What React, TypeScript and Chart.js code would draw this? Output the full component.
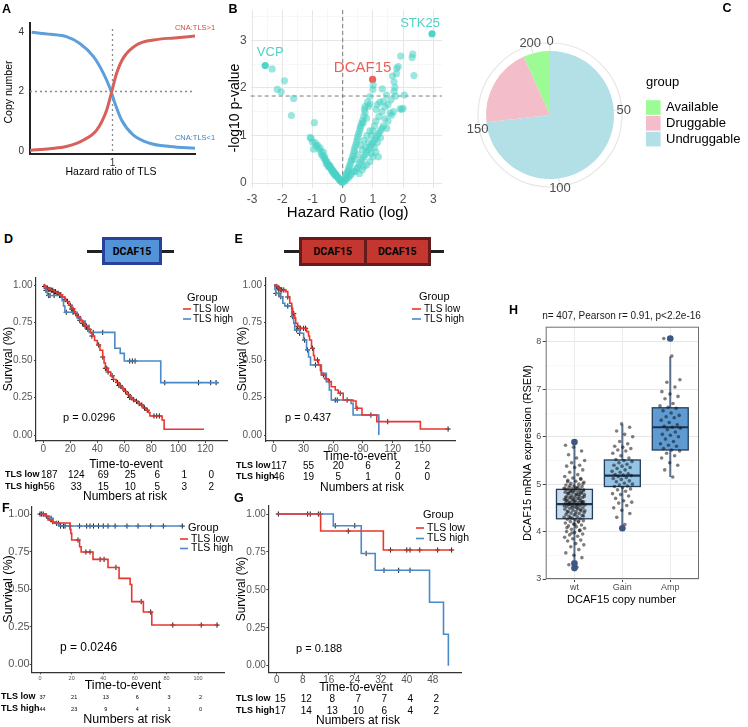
import React, { useEffect, useRef } from "react";
import { Chart, registerables } from "chart.js";

Chart.register(...registerables);
const FONT = "'Liberation Sans', Arial, Helvetica, sans-serif";
Chart.defaults.font.family = FONT;

/* ---------------- Panel A : schematic ---------------- */
const aBlueX = [0.02, 0.25, 0.44, 0.6, 0.77, 0.89, 0.97, 1.03, 1.11, 1.25, 1.45, 1.7, 2.0];
const aBlueY = [3.99, 3.92, 3.84, 3.62, 3.17, 2.61, 2.11, 1.6, 1.04, 0.54, 0.26, 0.15, 0.09];
const aRedX = [0.0, 0.24, 0.44, 0.65, 0.81, 0.93, 0.99, 1.05, 1.13, 1.29, 1.5, 1.75, 2.0];
const aRedY = [0.02, 0.08, 0.15, 0.37, 0.71, 1.38, 1.99, 2.61, 3.12, 3.56, 3.73, 3.8, 3.86];
const aXTicks = [1];
const aYTicks = [0, 2, 4];
const aCurveLabels = ["CNA:TLS>1", "CNA:TLS<1"];

/* ---------------- Panel B : volcano ---------------- */
const bGenes = [
  [-2.34, 2.4], [-1.93, 2.15], [-2.17, 1.97], [-2.04, 1.92], [-1.63, 1.78], [-1.7, 1.42], [-0.94, 1.27], [-1.08, 0.96], [-1.05, 0.94],
  [-1.0, 0.86], [-0.97, 0.71], [-0.92, 0.85], [-0.88, 0.78], [-0.84, 0.8], [-0.8, 0.72], [-0.75, 0.74], [-0.72, 0.66], [-0.7, 0.6],
  [-0.66, 0.58], [-0.64, 0.65], [-0.6, 0.55], [-0.58, 0.5], [-0.55, 0.46], [-0.52, 0.44], [-0.5, 0.4], [-0.47, 0.38], [-0.45, 0.36],
  [-0.42, 0.33], [-0.4, 0.31], [-0.38, 0.3], [-0.35, 0.28], [-0.33, 0.25], [-0.3, 0.24], [-0.28, 0.21], [-0.26, 0.2], [-0.24, 0.18],
  [-0.22, 0.16], [-0.2, 0.15], [-0.18, 0.13], [-0.16, 0.12], [-0.14, 0.1], [-0.12, 0.08], [-0.1, 0.07], [-0.08, 0.05], [-0.06, 0.04],
  [-0.04, 0.03], [-0.02, 0.01], [-0.55, 0.41], [-0.48, 0.34], [-0.36, 0.25], [-0.3, 0.2], [-0.25, 0.16], [-0.42, 0.36], [-0.62, 0.52],
  [0.02, 0.02], [0.05, 0.05], [0.08, 0.1], [0.1, 0.14], [0.12, 0.18], [0.15, 0.22], [0.18, 0.26], [0.2, 0.3], [0.22, 0.35], [0.25, 0.4],
  [0.28, 0.46], [0.3, 0.5], [0.33, 0.56], [0.36, 0.62], [0.38, 0.68], [0.4, 0.74], [0.43, 0.8], [0.46, 0.86], [0.48, 0.92], [0.5, 0.98],
  [0.53, 1.04], [0.56, 1.1], [0.58, 1.16], [0.6, 1.2], [0.63, 1.26], [0.66, 1.32], [0.68, 1.26], [0.7, 1.4], [0.74, 1.48], [0.79, 1.36],
  [0.85, 1.61], [0.72, 1.55], [0.82, 1.7], [0.9, 1.66],
  [0.1, 0.06], [0.15, 0.1], [0.2, 0.12], [0.25, 0.16], [0.3, 0.2], [0.35, 0.24], [0.41, 0.24], [0.45, 0.3], [0.5, 0.33], [0.55, 0.4],
  [0.6, 0.45], [0.65, 0.5], [0.7, 0.55], [0.75, 0.6], [0.79, 0.38], [0.8, 0.65], [0.85, 0.7], [0.9, 0.75], [0.95, 0.8], [1.0, 0.85],
  [1.05, 0.9], [1.1, 0.95], [1.18, 0.55], [1.15, 1.0], [1.2, 1.05], [1.25, 1.1], [1.3, 1.15], [1.46, 1.15], [1.35, 1.2], [0.9, 0.45],
  [1.0, 0.55], [1.1, 0.65], [0.95, 1.0], [1.0, 1.1], [1.05, 1.2], [0.6, 0.8], [0.7, 0.9], [0.8, 1.0], [0.9, 1.1], [1.1, 1.3], [1.2, 1.4],
  [1.3, 1.5], [1.4, 1.6], [1.57, 1.47], [1.62, 1.43], [1.68, 1.5], [1.95, 1.55], [0.5, 0.6], [0.4, 0.5], [0.65, 0.7], [0.75, 0.75],
  [0.85, 0.85], [0.95, 0.62], [1.05, 0.75], [1.15, 0.85], [1.25, 0.95], [1.4, 1.35], [1.5, 1.3], [0.55, 0.2], [0.65, 0.28], [0.7, 0.35],
  [0.74, 1.61], [0.9, 1.82], [1.0, 1.97], [1.01, 2.06], [1.31, 1.98], [1.23, 1.7], [1.7, 1.93], [1.73, 2.01], [1.75, 1.83], [2.04, 1.85],
  [1.9, 1.56], [2.0, 1.57], [1.7, 2.13], [1.79, 2.41], [1.84, 2.45], [1.92, 2.67], [2.32, 2.71], [2.3, 2.64], [2.36, 2.26], [1.6, 1.75],
  [1.5, 1.65], [1.45, 1.85], [1.65, 2.25], [1.78, 2.3], [1.15, 1.65], [1.1, 1.55], [1.35, 1.72],
];
const bHlNames = ["VCP", "STK25", "DCAF15"];
const bHlHR = [-2.57, 2.96, 0.99];
const bHlP = [2.47, 3.14, 2.18];
const bPCut = 1.83;
const bXTicks = [-3, -2.5, -2, -1.5, -1, -0.5, 0, 0.5, 1, 1.5, 2, 2.5, 3];
const bYTicks = [0, 0.5, 1, 1.5, 2, 2.5, 3, 3.5];

/* ---------------- Panel C : pie ---------------- */
const cGroups = ["Available", "Druggable", "Undruggable"];
const cCounts = [14, 42, 153];
const cBreaks = [0, 50, 100, 150, 200];

/* ---------------- KM panels ---------------- */
const kmGroups = ["TLS low", "TLS high"];

const dLow = [[0, 1], [1, 0.99], [2, 0.98], [4, 0.97], [6, 0.965], [8, 0.955], [10, 0.945], [12, 0.935], [14, 0.92], [16, 0.905], [17, 0.89], [19, 0.865], [21, 0.84], [23, 0.81], [25, 0.79], [27, 0.765], [29, 0.745], [31, 0.725], [33, 0.705], [35, 0.68], [36, 0.66], [38, 0.63], [40, 0.6], [42, 0.565], [44, 0.52], [45, 0.48], [46, 0.445], [48, 0.42], [50, 0.395], [52, 0.37], [54, 0.35], [56, 0.33], [58, 0.31], [60, 0.29], [62, 0.27], [64, 0.25], [66, 0.235], [68, 0.225], [70, 0.21], [72, 0.2], [74, 0.18], [76, 0.165], [78, 0.15], [79, 0.127], [88, 0.1], [89.5, 0.038], [119, 0.038]];
const dHigh = [[0, 1], [1, 0.982], [2, 0.964], [3, 0.93], [14, 0.895], [15, 0.86], [16, 0.818], [25, 0.78], [28, 0.76], [31, 0.73], [34, 0.684], [53, 0.578], [57, 0.544], [60, 0.493], [87, 0.349], [130, 0.349]];
const dLowCens = [1, 2, 3, 4, 5, 6, 7, 8, 9, 10, 11, 12, 13, 14, 16, 18, 20, 21, 22, 24, 26, 27, 29, 30, 31, 32, 33, 34, 36, 41, 44, 46, 47, 48, 51, 52, 55, 56, 57, 59, 61, 63, 64, 65, 67, 69, 71, 73, 75, 77, 82, 84, 86];
const dHighCens = [2, 4, 5, 8, 12, 17, 22, 37, 44, 64, 66, 68, 90, 115, 124, 128];
const dRiskT = [0, 20, 40, 60, 80, 100, 120];
const dRiskLow = [187, 124, 69, 25, 6, 1, 0];
const dRiskHigh = [56, 33, 15, 10, 5, 3, 2];

const eLow = [[0, 1], [2, 0.99], [4, 0.98], [6, 0.967], [12, 0.956], [14, 0.92], [16, 0.878], [18, 0.845], [19, 0.81], [21, 0.78], [22, 0.744], [24, 0.725], [26, 0.711], [33, 0.689], [35, 0.66], [36, 0.633], [38, 0.578], [40, 0.53], [41, 0.5], [45, 0.467], [47, 0.43], [48, 0.4], [52, 0.375], [55, 0.356], [58, 0.322], [62, 0.3], [65, 0.278], [70, 0.233], [80, 0.227], [83, 0.178], [89, 0.133], [104, 0.089], [148, 0.04], [176, 0.04]];
const eHigh = [[0, 1], [1, 0.97], [2, 0.944], [6, 0.922], [9, 0.878], [11, 0.86], [18, 0.789], [20, 0.745], [21, 0.7], [26, 0.678], [30, 0.633], [33, 0.567], [35, 0.52], [37, 0.467], [48, 0.411], [53, 0.356], [56, 0.3], [58, 0.233], [78, 0.211], [80, 0.133], [106, 0]];
const eLowCens = [3, 4, 5, 7, 8, 10, 14, 20, 24, 27, 30, 32, 39, 44, 50, 53, 56, 67, 84, 115, 176];
const eHighCens = [2, 5, 7, 14, 19, 23, 26, 31, 34, 42, 62, 64, 74, 98];
const eRiskT = [0, 30, 60, 90, 120, 150];
const eRiskLow = [117, 55, 20, 6, 2, 2];
const eRiskHigh = [46, 19, 5, 1, 0, 0];

const fLow = [[0, 1], [4, 0.982], [5, 0.96], [8, 0.94], [19, 0.898], [19.5, 0.871], [20, 0.827], [25, 0.782], [26, 0.747], [33.5, 0.698], [43, 0.644], [50, 0.571], [57, 0.53], [58, 0.416], [65.4, 0.347], [70.7, 0.26], [112, 0.26]];
const fHigh = [[0, 1], [3, 0.987], [6, 0.971], [8, 0.949], [10, 0.938], [12, 0.92], [90, 0.92]];
const fLowCens = [24, 29, 31.6, 38, 40.5, 48, 64, 70, 84, 102, 112];
const fHighCens = [0, 1, 2, 4, 6, 7, 8, 10.5, 11.6, 13, 14.8, 15.8, 19, 25, 29.5, 31.6, 33.8, 37, 40, 43, 47.5, 55, 62, 70, 78, 90];
const fRiskT = [0, 20, 40, 60, 80, 100];
const fRiskLow = [37, 21, 13, 6, 3, 2];
const fRiskHigh = [44, 23, 9, 4, 1, 0];

const gLow = [[0, 1], [13.5, 0.888], [32.8, 0.763], [53.8, 0.763]];
const gHigh = [[0, 1], [17.4, 0.923], [26, 0.74], [30.3, 0.629], [47, 0.418], [51.3, 0.207], [52.8, 0]];
const gLowCens = [22, 35, 40, 41, 44, 49.5, 53.8];
const gHighCens = [0.5, 9.5, 10.3, 12.8, 13.4, 18, 24, 27.5, 33, 37.5, 41];
const gRiskT = [0, 8, 16, 24, 32, 40, 48];
const gRiskLow = [15, 12, 8, 7, 7, 4, 2];
const gRiskHigh = [17, 14, 13, 10, 6, 4, 2];

/* ---------------- Panel H : box plot ---------------- */
const hCats = ["wt", "Gain", "Amp"];
const hWt = [3.25, 3.3, 3.45, 3.5, 3.55, 3.62, 3.68, 3.72, 3.75, 3.8, 3.82, 3.85, 3.88, 3.9, 3.93, 3.95, 3.98, 4.0, 4.02, 4.05, 4.07, 4.1, 4.12, 4.14, 4.16, 4.18, 4.2, 4.21, 4.23, 4.25, 4.26, 4.27, 4.28, 4.3, 4.31, 4.32, 4.34, 4.35, 4.36, 4.38, 4.39, 4.4, 4.42, 4.43, 4.44, 4.45, 4.47, 4.48, 4.49, 4.5, 4.52, 4.53, 4.54, 4.55, 4.56, 4.57, 4.58, 4.58, 4.59, 4.6, 4.61, 4.62, 4.63, 4.64, 4.65, 4.66, 4.67, 4.68, 4.7, 4.71, 4.72, 4.73, 4.74, 4.75, 4.76, 4.78, 4.79, 4.8, 4.81, 4.82, 4.83, 4.84, 4.85, 4.86, 4.87, 4.88, 4.89, 4.9, 4.91, 4.92, 4.93, 4.95, 4.96, 4.98, 5.0, 5.02, 5.04, 5.06, 5.08, 5.1, 5.13, 5.16, 5.2, 5.25, 5.3, 5.35, 5.38, 5.4, 5.45, 5.5, 5.55, 5.62, 5.7, 5.78, 5.82, 4.22, 4.29, 4.33, 4.37, 4.41, 4.46, 4.51, 4.54, 4.56, 4.6, 4.62, 4.64, 4.66, 4.69, 4.72, 4.74, 4.77, 4.8, 4.83, 4.86, 4.9, 4.94, 4.97, 5.01, 4.15, 4.08, 4.03, 3.97, 4.44, 4.5, 4.57, 4.63, 4.68, 4.71, 4.78, 4.84, 4.88, 4.92, 5.05, 5.12];
const hGain = [4.15, 4.3, 4.38, 4.45, 4.5, 4.55, 4.6, 4.62, 4.65, 4.7, 4.75, 4.78, 4.8, 4.85, 4.88, 4.9, 4.93, 4.95, 4.96, 4.98, 5.0, 5.02, 5.05, 5.07, 5.1, 5.12, 5.14, 5.16, 5.18, 5.19, 5.2, 5.22, 5.25, 5.27, 5.3, 5.33, 5.35, 5.38, 5.4, 5.42, 5.45, 5.48, 5.5, 5.52, 5.55, 5.6, 5.65, 5.7, 5.72, 5.75, 5.78, 5.8, 5.85, 5.9, 6.0, 6.05, 6.12, 6.2, 6.27];
const hAmp = [5.15, 5.3, 5.4, 5.45, 5.55, 5.6, 5.65, 5.7, 5.72, 5.75, 5.8, 5.82, 5.85, 5.9, 5.95, 6.0, 6.03, 6.05, 6.1, 6.15, 6.18, 6.2, 6.22, 6.25, 6.3, 6.35, 6.4, 6.42, 6.45, 6.5, 6.55, 6.6, 6.62, 6.65, 6.7, 6.8, 6.85, 6.9, 6.95, 7.05, 7.15, 7.2, 7.7, 8.07];
const hQ1 = [4.27, 4.95, 5.72];
const hMed = [4.58, 5.18, 6.2];
const hQ3 = [4.89, 5.51, 6.61];
const hLo = [3.4, 4.08, 5.15];
const hHi = [5.88, 6.26, 7.69];
const hOut = [[3.23, 3.33, 5.89], [4.07], [8.07]];
const hYTicks = [3, 3.5, 4, 4.5, 5, 5.5, 6, 6.5, 7, 7.5, 8];

/* ---------------- helpers ---------------- */
type Txt = { t: string; x: number; y: number; s: number; w?: string; c?: string; a?: CanvasTextAlign; r?: boolean };

function textPlugin(id: string, items: Txt[], ox: number, oy: number) {
  return {
    id,
    afterDraw(chart: any) {
      const ctx = chart.ctx;
      for (const it of items) {
        ctx.save();
        ctx.font = `${it.w || "normal"} ${it.s}px ${FONT}`;
        ctx.fillStyle = it.c || "#000";
        ctx.textAlign = it.a || "center";
        ctx.textBaseline = "middle";
        ctx.translate(it.x - ox, it.y - oy);
        if (it.r) ctx.rotate(-Math.PI / 2);
        ctx.fillText(it.t, 0, 0);
        ctx.restore();
      }
    },
  };
}

const fixW = (w: number) => (s: any) => {
  s.width = w;
  s.paddingTop = 0; s.paddingBottom = 0; s.paddingLeft = 0; s.paddingRight = 0;
};
const fixH = (h: number) => (s: any) => {
  s.height = h;
  s.paddingTop = 0; s.paddingBottom = 0; s.paddingLeft = 0; s.paddingRight = 0;
};
const setTicks = (vals: number[]) => (s: any) => {
  s.ticks = vals.map((v) => ({ value: v }));
};
const base = (padding: any) => ({
  responsive: false,
  animation: false,
  events: [] as any[],
  layout: { padding },
  plugins: { legend: { display: false }, tooltip: { enabled: false }, title: { display: false } },
});

/* ---------------- configs ---------------- */
const A_RED = "#d8605b";
const A_BLUE = "#5c9fdc";

function configA() {
  const ox = 0, oy = 0;
  return {
    type: "scatter",
    data: {
      datasets: [
        { data: aRedX.map((x, i) => ({ x, y: aRedY[i] })), showLine: true, borderColor: A_RED, borderWidth: 3, pointRadius: 0, cubicInterpolationMode: "monotone" },
        { data: aBlueX.map((x, i) => ({ x, y: aBlueY[i] })), showLine: true, borderColor: A_BLUE, borderWidth: 3, pointRadius: 0, cubicInterpolationMode: "monotone" },
      ],
    },
    options: {
      ...base({ left: 0, top: 23, right: 33, bottom: 0 }),
      scales: {
        x: {
          type: "linear", min: 0, max: 2, afterBuildTicks: setTicks(aXTicks), afterFit: fixH(36),
          grid: { display: false, drawTicks: false }, border: { display: true, color: "#222", width: 2 },
          ticks: { padding: 3, color: "#333", font: { size: 10 }, autoSkip: false, maxRotation: 0 },
        },
        y: {
          type: "linear", min: -0.1, max: 4.3, afterBuildTicks: setTicks(aYTicks), afterFit: fixW(30),
          grid: { display: false, drawTicks: false }, border: { display: true, color: "#222", width: 2 },
          ticks: { padding: 6, color: "#333", font: { size: 10 } },
        },
      },
    },
    plugins: [
      {
        id: "refA",
        beforeDatasetsDraw(chart: any) {
          const { ctx, chartArea: a, scales } = chart;
          ctx.save();
          ctx.strokeStyle = "#8a8a8a";
          ctx.lineWidth = 1.3;
          ctx.setLineDash([2, 3]);
          ctx.beginPath();
          const px = scales.x.getPixelForValue(aXTicks[0]);
          ctx.moveTo(px, a.top + 6);
          ctx.lineTo(px, a.bottom);
          const py = scales.y.getPixelForValue(aYTicks[1]);
          ctx.moveTo(a.left, py);
          ctx.lineTo(a.right, py);
          ctx.stroke();
          ctx.restore();
        },
      },
      textPlugin("txtA", [
        { t: "Copy number", x: 9.5, y: 92, s: 10.5, r: true },
        { t: "Hazard ratio of TLS", x: 111, y: 172, s: 10.5 },
        { t: aCurveLabels[0], x: 195, y: 28, s: 7.5, c: "#cf4c47" },
        { t: aCurveLabels[1], x: 195, y: 138, s: 7.5, c: "#3f7fc0" },
      ], ox, oy),
    ],
  };
}

const B_TEAL = "rgba(72,209,196,0.55)";

function configB() {
  const ox = 222, oy = 0;
  const gridColor = (c: any) => (c.tick && Number.isInteger(c.tick.value) ? "#e6e6e6" : "#f2f2f2");
  const gridWidth = (c: any) => (c.tick && Number.isInteger(c.tick.value) ? 1 : 0.6);
  const lbl = (v: any) => (Number.isInteger(v) ? String(v) : "");
  const labelOffsets = [[5, -13], [-12, -10], [-10, -12]];
  const labelSizes = [13, 13, 15];
  return {
    type: "scatter",
    data: {
      datasets: [
        { data: bGenes.map(([x, y]) => ({ x, y })), pointRadius: 3.6, backgroundColor: B_TEAL, borderWidth: 0 },
        {
          data: bHlHR.map((x, i) => ({ x, y: bHlP[i] })), pointRadius: 3.6, borderWidth: 0,
          backgroundColor: bHlNames.map((n) => (n === "DCAF15" ? "#f05f5a" : "rgba(72,209,196,0.95)")),
        },
      ],
    },
    options: {
      ...base({ left: 0, top: 10, right: 8, bottom: 0 }),
      scales: {
        x: {
          type: "linear", min: -3.05, max: 3.29, afterBuildTicks: setTicks(bXTicks), afterFit: fixH(38),
          grid: { color: gridColor, lineWidth: gridWidth, drawTicks: false }, border: { display: false },
          ticks: { padding: 4, color: "#4d4d4d", font: { size: 12 }, autoSkip: false, maxRotation: 0, callback: lbl },
        },
        y: {
          type: "linear", min: -0.105, max: 3.64, afterBuildTicks: setTicks(bYTicks), afterFit: fixW(28.7),
          grid: { color: gridColor, lineWidth: gridWidth, drawTicks: false }, border: { display: false },
          ticks: { padding: 4, color: "#4d4d4d", font: { size: 12 }, autoSkip: false, callback: lbl },
        },
      },
    },
    plugins: [
      {
        id: "refB",
        beforeDatasetsDraw(chart: any) {
          const { ctx, chartArea: a, scales } = chart;
          ctx.save();
          ctx.strokeStyle = "#7a7a7a";
          ctx.lineWidth = 1;
          ctx.setLineDash([4, 3]);
          ctx.beginPath();
          const px = scales.x.getPixelForValue(0);
          ctx.moveTo(px, a.top);
          ctx.lineTo(px, a.bottom);
          const py = scales.y.getPixelForValue(bPCut);
          ctx.moveTo(a.left, py);
          ctx.lineTo(a.right, py);
          ctx.stroke();
          ctx.restore();
        },
        afterDraw(chart: any) {
          const { ctx, scales } = chart;
          bHlNames.forEach((n, i) => {
            const px = scales.x.getPixelForValue(bHlHR[i]) + labelOffsets[i][0];
            const py = scales.y.getPixelForValue(bHlP[i]) + labelOffsets[i][1];
            ctx.save();
            ctx.font = `${labelSizes[i]}px ${FONT}`;
            ctx.fillStyle = n === "DCAF15" ? "#ef5f5a" : "#52d0c4";
            ctx.textAlign = "center";
            ctx.textBaseline = "middle";
            ctx.fillText(n, px, py);
            ctx.restore();
          });
        },
      },
      textPlugin("txtB", [
        { t: "-log10 p-value", x: 235, y: 108, s: 14, r: true },
        { t: "Hazard Ratio (log)", x: 347.7, y: 213, s: 15 },
      ], ox, oy),
    ],
  };
}

const C_COLORS = ["#9dfb95", "#f4bdca", "#b3dfe6"];

function configC() {
  const ox = 450, oy = 0;
  const order = [2, 1, 0];
  const total = cCounts.reduce((a, b) => a + b, 0);
  return {
    type: "pie",
    data: {
      labels: order.map((i) => cGroups[i]),
      datasets: [{ data: order.map((i) => cCounts[i]), backgroundColor: order.map((i) => C_COLORS[i]), borderWidth: 0, hoverOffset: 0, offset: 0 }],
    },
    options: { ...base({ left: 36, top: 51, right: 134, bottom: 16 }), rotation: 0 },
    plugins: [
      {
        id: "polarC",
        beforeDatasetsDraw(chart: any) {
          const arc = chart.getDatasetMeta(0).data[0];
          const cx = arc.x, cy = arc.y, R = arc.outerRadius;
          const ctx = chart.ctx;
          ctx.save();
          ctx.strokeStyle = "#e6e6e6";
          ctx.lineWidth = 1.2;
          ctx.beginPath();
          ctx.arc(cx, cy, R + 8, 0, Math.PI * 2);
          ctx.stroke();
          ctx.beginPath();
          cBreaks.forEach((b) => {
            const ang = (b / total) * Math.PI * 2;
            ctx.moveTo(cx + Math.sin(ang) * R, cy - Math.cos(ang) * R);
            ctx.lineTo(cx + Math.sin(ang) * (R + 8), cy - Math.cos(ang) * (R + 8));
          });
          ctx.stroke();
          ctx.restore();
        },
        afterDraw(chart: any) {
          const arc = chart.getDatasetMeta(0).data[0];
          const cx = arc.x, cy = arc.y, R = arc.outerRadius;
          const ctx = chart.ctx;
          ctx.save();
          ctx.font = `13px ${FONT}`;
          ctx.fillStyle = "#4d4d4d";
          ctx.textAlign = "center";
          ctx.textBaseline = "middle";
          cBreaks.forEach((b) => {
            const ang = (b / total) * Math.PI * 2;
            ctx.fillText(String(b), cx + Math.sin(ang) * (R + 10), cy - Math.cos(ang) * (R + 10));
          });
          ctx.fillStyle = "#000";
          ctx.textAlign = "left";
          ctx.fillText("group", 646 - ox, 82 - oy);
          cGroups.forEach((g, i) => {
            const yc = 107.5 + i * 15.8;
            ctx.fillStyle = C_COLORS[i];
            ctx.fillRect(646 - ox, yc - 7.3 - oy, 14.6, 14.6);
            ctx.fillStyle = "#000";
            ctx.fillText(g, 666 - ox, yc - oy);
          });
          ctx.restore();
        },
      },
    ],
  };
}

const KM_RED = "#e8372f";
const KM_BLUE = "#4b89c8";

const stepAt = (c: number[][], t: number) => {
  let s = c[0][1];
  for (const [ti, si] of c) {
    if (ti <= t) s = si;
    else break;
  }
  return s;
};

function kmConfig(p: any) {
  const toPts = (c: number[][]) => c.map(([x, y]) => ({ x, y }));
  const cens = (c: number[][], ts: number[]) => ts.map((t) => ({ x: t, y: stepAt(c, t) }));
  const censDs = (data: any) => ({ data, pointStyle: "cross", pointRadius: 2.6, borderColor: "#1a1a1a", backgroundColor: "#1a1a1a", borderWidth: 1 });
  const colors = [KM_RED, KM_BLUE];
  const L = p.legend, Rk = p.risk;
  return {
    type: "scatter",
    data: {
      datasets: [
        { data: toPts(p.low), showLine: true, stepped: "before", borderColor: KM_RED, borderWidth: 1.6, pointRadius: 0 },
        { data: toPts(p.high), showLine: true, stepped: "before", borderColor: KM_BLUE, borderWidth: 1.6, pointRadius: 0 },
        censDs(cens(p.low, p.lowC)),
        censDs(cens(p.high, p.highC)),
      ],
    },
    options: {
      ...base({ left: 0, top: p.area.t - p.oy, right: p.ox + p.w - p.area.r, bottom: 0 }),
      scales: {
        x: {
          type: "linear", min: p.xr[0], max: p.xr[1], afterBuildTicks: setTicks(p.xt), afterFit: fixH(p.oy + p.h - p.area.b),
          grid: { display: true, drawOnChartArea: false, drawTicks: true, tickLength: 2, color: "#444" },
          border: { display: true, color: "#333", width: 1.2 },
          ticks: { padding: p.xPad, color: "#555", font: { size: p.xFont }, autoSkip: false, maxRotation: 0 },
        },
        y: {
          type: "linear", min: p.yr[0], max: p.yr[1], afterBuildTicks: setTicks([0, 0.25, 0.5, 0.75, 1]), afterFit: fixW(p.area.l - p.ox),
          grid: { display: true, drawOnChartArea: false, drawTicks: true, tickLength: 2, color: "#444" },
          border: { display: true, color: "#333", width: 1.2 },
          ticks: { padding: p.yPad, color: "#555", font: { size: p.yFont }, callback: (v: any) => Number(v).toFixed(2) },
        },
      },
    },
    plugins: [
      {
        id: "kmExtras" + p.id,
        afterDraw(chart: any) {
          const ctx = chart.ctx;
          const xs = chart.scales.x;
          ctx.save();
          ctx.textBaseline = "middle";
          // legend
          ctx.font = `${L.gs}px ${FONT}`;
          ctx.fillStyle = "#000";
          ctx.textAlign = "left";
          ctx.fillText("Group", L.gx - p.ox, L.gy - p.oy);
          kmGroups.forEach((g, i) => {
            const y = L.rows[i] - p.oy;
            ctx.strokeStyle = colors[i];
            ctx.lineWidth = 1.6;
            ctx.beginPath();
            ctx.moveTo(L.l0 - p.ox, y);
            ctx.lineTo(L.l1 - p.ox, y);
            ctx.stroke();
            ctx.font = `${L.is}px ${FONT}`;
            ctx.fillStyle = "#000";
            ctx.fillText(g, L.tx - p.ox, y);
          });
          // risk table
          const counts = [p.rl, p.rh];
          kmGroups.forEach((g, i) => {
            const y = Rk.rows[i] - p.oy;
            ctx.font = `bold ${Rk.ls}px ${FONT}`;
            ctx.textAlign = "left";
            ctx.fillStyle = "#000";
            ctx.fillText(g, Rk.lx - p.ox, y);
            ctx.font = `${Rk.ns}px ${FONT}`;
            ctx.textAlign = "center";
            p.rt.forEach((t: number, k: number) => {
              ctx.fillText(String(counts[i][k]), xs.getPixelForValue(t) + Rk.dx, y);
            });
          });
          ctx.restore();
        },
      },
      textPlugin("txtKM" + p.id, p.texts, p.ox, p.oy),
    ],
  };
}

const kmD = {
  id: "D", ox: 0, oy: 270, w: 240, h: 235,
  area: { l: 36, t: 277.5, r: 227.7, b: 441 }, xr: [-5.4, 136.6], yr: [-0.04, 1.05], xt: [0, 20, 40, 60, 80, 100, 120],
  low: dLow, high: dHigh, lowC: dLowCens, highC: dHighCens, rt: dRiskT, rl: dRiskLow, rh: dRiskHigh,
  xFont: 10, yFont: 10, xPad: 0, yPad: 1.5,
  legend: { gx: 187, gy: 297.7, l0: 183, l1: 191, tx: 193, rows: [309, 319], gs: 11, is: 10 },
  risk: { lx: 5, rows: [475, 487], ls: 9, ns: 10, dx: 6 },
  texts: [
    { t: "Survival (%)", x: 9, y: 359, s: 12, r: true },
    { t: "Time-to-event", x: 126, y: 465, s: 12 },
    { t: "Numbers at risk", x: 125, y: 497, s: 12 },
    { t: "p = 0.0296", x: 63, y: 418, s: 11, a: "left" },
  ],
};
const kmE = {
  id: "E", ox: 235, oy: 270, w: 230, h: 225,
  area: { l: 266, t: 277.5, r: 455, b: 441 }, xr: [-8, 183], yr: [-0.04, 1.05], xt: [0, 30, 60, 90, 120, 150],
  low: eLow, high: eHigh, lowC: eLowCens, highC: eHighCens, rt: eRiskT, rl: eRiskLow, rh: eRiskHigh,
  xFont: 10, yFont: 10, xPad: 0, yPad: 2,
  legend: { gx: 419, gy: 297, l0: 412, l1: 421, tx: 424, rows: [309, 319], gs: 11, is: 10 },
  risk: { lx: 236, rows: [466, 477], ls: 9, ns: 10, dx: 5 },
  texts: [
    { t: "Survival (%)", x: 243, y: 359, s: 12, r: true },
    { t: "Time-to-event", x: 360, y: 457, s: 12 },
    { t: "Numbers at risk", x: 362, y: 488, s: 12 },
    { t: "p = 0.437", x: 285, y: 418, s: 11, a: "left" },
  ],
};
const kmF = {
  id: "F", ox: 0, oy: 500, w: 240, h: 227,
  area: { l: 31.7, t: 506.7, r: 224.3, b: 672.3 }, xr: [-5.3, 116.6], yr: [-0.055, 1.049], xt: [0, 20, 40, 60, 80, 100],
  low: fLow, high: fHigh, lowC: fLowCens, highC: fHighCens, rt: fRiskT, rl: fRiskLow, rh: fRiskHigh,
  xFont: 5.5, yFont: 11, xPad: 1, yPad: 0,
  legend: { gx: 188, gy: 528, l0: 180, l1: 188, tx: 191, rows: [539, 548.5], gs: 11, is: 10.5 },
  risk: { lx: 1, rows: [697, 709], ls: 9, ns: 5.5, dx: 2.5 },
  texts: [
    { t: "Survival (%)", x: 8.5, y: 589, s: 12.5, r: true },
    { t: "Time-to-event", x: 123, y: 686, s: 12.5 },
    { t: "Numbers at risk", x: 127, y: 720, s: 12.5 },
    { t: "p = 0.0246", x: 60, y: 648, s: 12, a: "left" },
  ],
};
const kmG = {
  id: "G", ox: 230, oy: 500, w: 240, h: 227,
  area: { l: 268.3, t: 506, r: 461.7, b: 672.7 }, xr: [-2.6, 56.9], yr: [-0.046, 1.053], xt: [0, 8, 16, 24, 32, 40, 48],
  low: gLow, high: gHigh, lowC: gLowCens, highC: gHighCens, rt: gRiskT, rl: gRiskLow, rh: gRiskHigh,
  xFont: 10, yFont: 10, xPad: 0, yPad: 0.5,
  legend: { gx: 423, gy: 515, l0: 416, l1: 424, tx: 427, rows: [528, 538.5], gs: 11, is: 10.5 },
  risk: { lx: 236, rows: [699, 711], ls: 9, ns: 10, dx: 3.5 },
  texts: [
    { t: "Survival (%)", x: 241.5, y: 589, s: 12, r: true },
    { t: "Time-to-event", x: 356, y: 688, s: 12 },
    { t: "Numbers at risk", x: 358, y: 721, s: 12 },
    { t: "p = 0.188", x: 296, y: 649, s: 11, a: "left" },
  ],
};

const H_FILL = ["#c9dcee", "#93c3e5", "#5e9bd2"];

function configH() {
  const ox = 500, oy = 300;
  const groups = [hWt, hGain, hAmp];
  const jitter: any[] = [];
  groups.forEach((vals, g) =>
    vals.forEach((v, i) => jitter.push({ x: g + 1 + ((((i + 1) * 0.6180339887) % 1) - 0.5) * 0.44, y: v }))
  );
  const outl: any[] = [];
  hOut.forEach((vals, g) => vals.forEach((v) => outl.push({ x: g + 1, y: v })));
  const major = (c: any) => c.tick && Number.isInteger(c.tick.value);
  return {
    type: "scatter",
    data: {
      datasets: [
        { data: outl, pointRadius: 3.3, backgroundColor: "#3c5783", borderWidth: 0 },
        { data: jitter, pointRadius: 1.8, backgroundColor: "rgba(20,20,20,0.55)", borderWidth: 0 },
      ],
    },
    options: {
      ...base({ left: 0, top: 26.7, right: 49, bottom: 0 }),
      scales: {
        x: {
          type: "linear", min: 0.4, max: 3.6, afterBuildTicks: setTicks([1, 2, 3]), afterFit: fixH(32),
          grid: { color: "#ebebeb", lineWidth: 1, drawTicks: true, tickLength: 3, tickColor: "#444" },
          border: { display: false },
          ticks: { padding: 0, color: "#4d4d4d", font: { size: 9 }, autoSkip: false, maxRotation: 0, callback: (v: any) => hCats[Math.round(v) - 1] },
        },
        y: {
          type: "linear", min: 3, max: 8.32, afterBuildTicks: setTicks(hYTicks), afterFit: fixW(45.7),
          grid: {
            color: (c: any) => (major(c) ? "#e6e6e6" : "#f3f3f3"), lineWidth: (c: any) => (major(c) ? 1 : 0.6),
            drawTicks: true, tickLength: 3, tickColor: (c: any) => (major(c) ? "#444" : "rgba(0,0,0,0)"),
          },
          border: { display: false },
          ticks: { padding: 1.5, color: "#4d4d4d", font: { size: 9 }, autoSkip: false, callback: (v: any) => (Number.isInteger(v) ? String(v) : "") },
        },
      },
    },
    plugins: [
      {
        id: "boxH",
        beforeDatasetsDraw(chart: any) {
          const { ctx, scales } = chart;
          const xs = scales.x, ys = scales.y;
          ctx.save();
          hCats.forEach((_, g) => {
            const c = xs.getPixelForValue(g + 1);
            const l = xs.getPixelForValue(g + 1 - 0.375), r = xs.getPixelForValue(g + 1 + 0.375);
            ctx.strokeStyle = "#5a6f8c";
            ctx.lineWidth = 2;
            ctx.beginPath();
            ctx.moveTo(c, ys.getPixelForValue(hLo[g]));
            ctx.lineTo(c, ys.getPixelForValue(hQ1[g]));
            ctx.moveTo(c, ys.getPixelForValue(hQ3[g]));
            ctx.lineTo(c, ys.getPixelForValue(hHi[g]));
            ctx.stroke();
            const top = ys.getPixelForValue(hQ3[g]), bot = ys.getPixelForValue(hQ1[g]);
            ctx.fillStyle = H_FILL[g];
            ctx.fillRect(l, top, r - l, bot - top);
            ctx.strokeStyle = "#253d5b";
            ctx.lineWidth = 1.3;
            ctx.strokeRect(l, top, r - l, bot - top);
            ctx.lineWidth = 2.2;
            ctx.strokeStyle = "#1c324f";
            ctx.beginPath();
            const m = ys.getPixelForValue(hMed[g]);
            ctx.moveTo(l, m);
            ctx.lineTo(r, m);
            ctx.stroke();
          });
          ctx.restore();
        },
        afterDatasetsDraw(chart: any) {
          const { ctx, chartArea: a } = chart;
          ctx.save();
          ctx.strokeStyle = "#6e6e6e";
          ctx.lineWidth = 1;
          ctx.strokeRect(a.left + 0.5, a.top + 0.5, a.right - a.left - 1, a.bottom - a.top - 1);
          ctx.restore();
        },
      },
      textPlugin("txtH", [
        { t: "n= 407, Pearson r= 0.91, p<2.2e-16", x: 621.5, y: 316.7, s: 10, c: "#1a1a1a" },
        { t: "DCAF15 mRNA expression (RSEM)", x: 528.3, y: 453, s: 11, r: true },
        { t: "DCAF15 copy number", x: 621.5, y: 600, s: 11 },
      ], ox, oy),
    ],
  };
}

/* ---------------- components ---------------- */
function ChartBox({ x, y, w, h, config }: { x: number; y: number; w: number; h: number; config: () => any }) {
  const ref = useRef<HTMLCanvasElement | null>(null);
  useEffect(() => {
    const chart = new Chart(ref.current as HTMLCanvasElement, config());
    return () => chart.destroy();
  }, []);
  return (
    <canvas ref={ref} width={w} height={h} style={{ position: "absolute", left: x, top: y, width: w, height: h }} />
  );
}

const letterStyle = (left: number, top: number): React.CSSProperties => ({
  position: "absolute", left, top, font: `bold 12.5px ${FONT}`, lineHeight: "12.5px", color: "#000",
});

const geneFont = "bold 10.5px Roboto, 'Liberation Sans', Arial, sans-serif";

export default function App() {
  return (
    <div style={{ position: "absolute", left: 0, top: 0, width: 748, height: 727, background: "#fff", overflow: "hidden" }}>
      <ChartBox x={0} y={0} w={228} h={190} config={configA} />
      <ChartBox x={222} y={0} w={228} h={226} config={configB} />
      <ChartBox x={450} y={0} w={298} h={195} config={configC} />
      <ChartBox x={0} y={270} w={240} h={235} config={() => kmConfig(kmD)} />
      <ChartBox x={235} y={270} w={230} h={225} config={() => kmConfig(kmE)} />
      <ChartBox x={0} y={500} w={240} h={227} config={() => kmConfig(kmF)} />
      <ChartBox x={230} y={500} w={240} h={227} config={() => kmConfig(kmG)} />
      <ChartBox x={500} y={300} w={248} h={311} config={configH} />

      {/* gene schematic D */}
      <div style={{ position: "absolute", left: 87, top: 249.5, width: 15, height: 3.3, background: "#222" }} />
      <div style={{ position: "absolute", left: 162, top: 249.5, width: 12, height: 3.3, background: "#222" }} />
      <div style={{ position: "absolute", left: 102, top: 237, width: 60, height: 28, boxSizing: "border-box", border: "3px solid #28429a", background: "#5492d8", display: "flex", alignItems: "center", justifyContent: "center", font: geneFont, color: "#000" }}>DCAF15</div>

      {/* gene schematic E */}
      <div style={{ position: "absolute", left: 284, top: 249.5, width: 15, height: 3.3, background: "#222" }} />
      <div style={{ position: "absolute", left: 431, top: 249.5, width: 13, height: 3.3, background: "#222" }} />
      <div style={{ position: "absolute", left: 299, top: 237, width: 132, height: 29, boxSizing: "border-box", border: "3px solid #651b1b", background: "#c43730", display: "flex", font: geneFont, color: "#000" }}>
        <div style={{ flex: 1, borderRight: "3px solid #651b1b", display: "flex", alignItems: "center", justifyContent: "center" }}>DCAF15</div>
        <div style={{ flex: 1, display: "flex", alignItems: "center", justifyContent: "center" }}>DCAF15</div>
      </div>

      <div style={letterStyle(2, 3)}>A</div>
      <div style={letterStyle(228.5, 3)}>B</div>
      <div style={letterStyle(722.5, 2)}>C</div>
      <div style={letterStyle(4, 233)}>D</div>
      <div style={letterStyle(234.5, 233)}>E</div>
      <div style={letterStyle(2, 502)}>F</div>
      <div style={letterStyle(234, 492)}>G</div>
      <div style={letterStyle(509, 304)}>H</div>
    </div>
  );
}
